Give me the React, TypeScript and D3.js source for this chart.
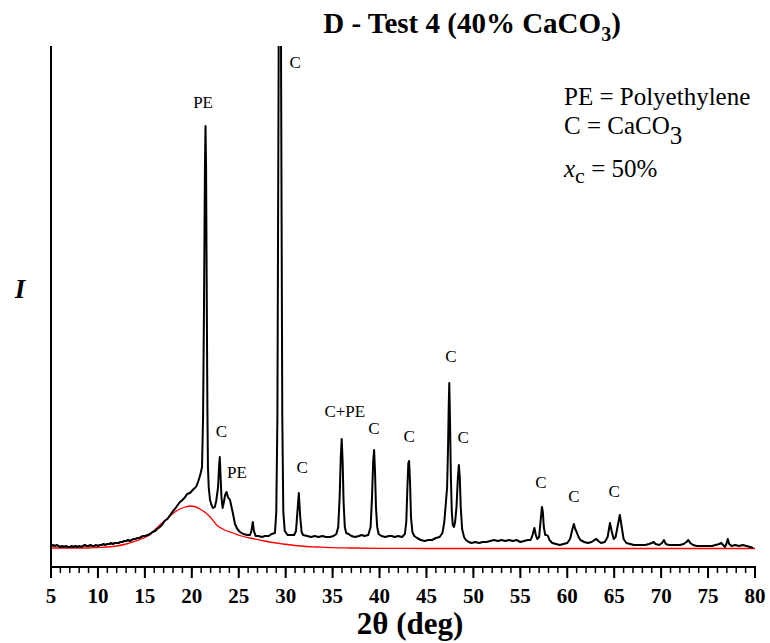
import React from "react";
import * as d3 from "d3";

// Measured XRD pattern: [2θ (deg), intensity (a.u.)]
const measured: [number, number][] = [
  [5.0,21],[5.2,22],[5.4,21],[5.6,22],[5.8,21],[6.0,20],[6.2,21],[6.4,20],[6.6,21],[6.8,20],
  [7.0,20],[7.2,21],[7.4,20],[7.6,21],[7.8,20],[8.0,21],[8.2,20],[8.4,21],[8.6,22],[8.8,21],
  [9.0,21],[9.2,22],[9.4,21],[9.6,21],[9.8,22],[10.0,21],[10.2,22],[10.4,22],[10.6,23],[10.8,22],
  [11.0,23],[11.2,23],[11.4,24],[11.6,23],[11.8,24],[12.0,24],[12.2,24],[12.4,25],[12.6,25],[12.8,26],
  [13.0,26],[13.2,27],[13.4,26],[13.6,27],[13.8,28],[14.0,28],[14.2,29],[14.4,29],[14.6,30],[14.8,31],
  [15.0,31],[15.3,32],[15.55,33],[15.8,35],[16.1,36],[16.3,38],[16.6,40],[16.9,43],[17.1,46],[17.4,48],
  [17.7,52],[18.0,56],[18.2,58],[18.5,62],[18.74,65],[19.0,67],[19.3,70],[19.5,73],[19.8,74],[20.0,76],
  [20.2,78],[20.34,79],[20.5,81],[20.66,85],[20.8,89],[20.95,94],[21.09,100],[21.2,150],[21.3,260],[21.4,400],
  [21.46,441],[21.52,400],[21.6,260],[21.66,160],[21.72,100],[21.8,80],[21.94,67],[22.1,62],[22.26,59],[22.45,60],
  [22.6,66],[22.8,80],[22.9,100],[22.98,110],[23.06,92],[23.16,70],[23.28,59],[23.4,64],[23.55,72],[23.7,75],
  [23.85,70],[24.07,67],[24.35,55],[24.6,43],[24.85,38],[25.13,35],[25.5,33],[25.9,32],[26.2,32],[26.35,36],
  [26.5,45],[26.62,36],[26.8,31],[27.1,31],[27.5,30],[27.8,31],[28.2,31],[28.5,33],[28.86,34],[29.0,55],
  [29.12,150],[29.25,500],[29.3,900],[29.38,1400],[29.46,900],[29.51,500],[29.64,150],[29.75,55],
  [29.9,36],[30.2,32],[30.5,32],[30.9,32],[31.1,36],[31.25,55],[31.4,74],[31.55,50],[31.7,35],[31.85,32],
  [32.3,31],[32.7,30],[33.1,31],[33.5,30],[33.9,31],[34.3,30],[34.7,30],[35.1,31],[35.4,33],[35.6,40],
  [35.75,70],[35.87,110],[35.97,128],[36.07,105],[36.17,65],[36.3,40],[36.45,34],[36.7,33],[37.0,31],[37.4,30],
  [37.8,31],[38.1,32],[38.4,31],[38.8,32],[39.05,40],[39.2,70],[39.32,105],[39.42,117],[39.52,95],[39.62,60],
  [39.75,40],[39.9,33],[40.2,31],[40.6,30],[41.0,31],[41.3,31],[41.6,30],[42.0,31],[42.4,30],[42.7,33],
  [42.85,45],[42.97,80],[43.07,104],[43.15,106],[43.25,85],[43.35,50],[43.5,35],[43.7,31],[44.0,29],[44.4,27],
  [44.8,26],[45.2,27],[45.6,27],[46.0,29],[46.4,30],[46.7,34],[46.9,45],[47.05,62],[47.2,80],[47.3,120],
  [47.37,160],[47.43,184],[47.5,150],[47.6,90],[47.7,55],[47.8,42],[47.93,40],[48.05,45],[48.2,60],[48.35,90],
  [48.45,102],[48.55,90],[48.65,60],[48.8,38],[49.0,30],[49.2,27],[49.5,25],[49.8,24],[50.2,25],[50.6,24],
  [51.0,25],[51.4,25],[51.8,26],[52.2,27],[52.6,26],[53.0,27],[53.4,26],[53.8,27],[54.2,26],[54.6,27],
  [55.0,25],[55.4,26],[55.8,27],[56.1,27],[56.3,32],[56.5,39],[56.65,32],[56.8,28],[57.0,30],[57.15,45],
  [57.3,60],[57.4,55],[57.5,40],[57.65,32],[57.8,32],[57.95,31],[58.1,27],[58.4,24],[58.8,23],[59.2,22],
  [59.6,23],[60.0,24],[60.3,28],[60.55,38],[60.7,43],[60.85,38],[61.0,35],[61.2,30],[61.4,27],[61.8,25],
  [62.2,24],[62.6,25],[62.9,27],[63.1,28],[63.3,26],[63.6,24],[64.0,25],[64.3,30],[64.55,44],[64.75,35],
  [64.95,28],[65.15,30],[65.35,40],[65.6,52],[65.8,40],[66.0,28],[66.3,24],[66.7,23],[67.1,22],[67.5,22],
  [67.9,22],[68.3,22],[68.7,23],[69.0,24],[69.2,25],[69.4,23],[69.8,22],[70.1,24],[70.3,27],[70.5,23],
  [70.8,22],[71.2,22],[71.6,22],[72.0,22],[72.4,23],[72.7,25],[72.9,27],[73.1,24],[73.4,22],[73.8,21],
  [74.2,21],[74.6,21],[75.0,21],[75.4,21],[75.8,22],[76.2,23],[76.4,24],[76.6,22],[76.8,20],[76.95,23],
  [77.1,28],[77.25,23],[77.5,21],[77.9,22],[78.3,21],[78.7,22],[79.1,21],[79.5,20],[79.8,19],
];

// Fitted amorphous halo (background): [2θ (deg), intensity (a.u.)]
const amorphousHalo: [number, number][] = [
  [5,19],[7,19],[9,19],[10,19.5],[11,20],[12,21],[13,23],[14,26],[15,29.5],[15.5,32],
  [16,36.5],[16.6,42],[17.2,47],[17.7,51],[18.2,55],[18.74,58],[19.3,60],[19.8,61],[20.3,60.5],[20.87,58],
  [21.5,54],[22.0,49.5],[22.65,42],[23.5,37],[24.4,34],[25.3,31],[26.2,29],[27.5,26.5],[28.6,24.5],[29.7,23],
  [31,21.5],[32.2,20.5],[33.3,20],[35,19.3],[37,19],[40,18.7],[45,18.5],[50,18.5],[60,18.5],[70,18.5],[80,18.5],
];

// Peak assignments: label, 2θ and the intensity level of the label baseline
const peakLabelText = ["PE", "C", "C", "PE", "C", "C+PE", "C", "C", "C", "C", "C", "C", "C"];
const peakLabelAngle = [21.2, 30.4, 23.15, 24.8, 31.75, 36.3, 39.4, 43.15, 47.6, 48.9, 57.2, 60.7, 65.0];
const peakLabelLevel = [459, 499, 130, 89, 94, 150, 133, 125, 205, 124, 79, 65, 70];
const peakLabelAnchor = ["middle", "start", "middle", "middle", "middle", "middle", "middle", "middle", "middle", "middle", "middle", "middle", "middle"];

const xMajorTicks = d3.range(5, 81, 5);
const xMinorTicks = d3.range(5, 81, 1);

const W = 770;
const H = 643;
const plot = { left: 51, right: 755, top: 46, bottom: 567 };

export default function App() {
  const x = d3.scaleLinear().domain([5, 80]).range([plot.left, plot.right]);
  const y = d3.scaleLinear().domain([0, 521]).range([plot.bottom, plot.top]);
  const line = d3
    .line<[number, number]>()
    .x((d) => x(d[0]))
    .y((d) => y(d[1]));
  const smooth = d3
    .line<[number, number]>()
    .x((d) => x(d[0]))
    .y((d) => y(d[1]))
    .curve(d3.curveMonotoneX);

  const serif = "'Liberation Serif', 'Times New Roman', serif";

  return (
    <svg
      width={W}
      height={H}
      viewBox={`0 0 ${W} ${H}`}
      style={{ position: "absolute", left: 0, top: 0, background: "#fff" }}
      fontFamily={serif}
    >
      <defs>
        <clipPath id="plotArea">
          <rect x={plot.left} y={plot.top} width={plot.right - plot.left + 4} height={plot.bottom - plot.top} />
        </clipPath>
      </defs>
      <rect width={W} height={H} fill="#fff" />

      {/* Title */}
      <text x={472} y={33} textAnchor="middle" fontSize={29} fontWeight="bold">
        D - Test 4 (40% CaCO
        <tspan fontSize={20} dy={8}>3</tspan>
        <tspan dy={-8}>)</tspan>
      </text>

      {/* Patterns */}
      <g clipPath="url(#plotArea)">
        <path d={smooth(amorphousHalo) ?? ""} fill="none" stroke="#ff0000" strokeWidth={1.3} />
        <path d={line(measured) ?? ""} fill="none" stroke="#000" strokeWidth={2} strokeLinejoin="round" />
      </g>

      {/* Peak labels */}
      {peakLabelText.map((t, i) => (
        <text
          key={i}
          x={x(peakLabelAngle[i])}
          y={y(peakLabelLevel[i])}
          textAnchor={peakLabelAnchor[i] as any}
          fontSize={17}
        >
          {t}
        </text>
      ))}

      {/* Axes */}
      <line x1={plot.left} x2={plot.left} y1={plot.top} y2={plot.bottom + 1} stroke="#000" strokeWidth={2} />
      <line x1={plot.left - 1} x2={plot.right + 1} y1={plot.bottom} y2={plot.bottom} stroke="#000" strokeWidth={2} />
      {xMinorTicks.map((t) => (
        <line key={"m" + t} x1={x(t)} x2={x(t)} y1={plot.bottom} y2={plot.bottom + 6} stroke="#000" strokeWidth={1.5} />
      ))}
      {xMajorTicks.map((t) => (
        <line key={"M" + t} x1={x(t)} x2={x(t)} y1={plot.bottom} y2={plot.bottom + 11} stroke="#000" strokeWidth={2} />
      ))}
      {xMajorTicks.map((t) => (
        <text key={"l" + t} x={x(t)} y={603} textAnchor="middle" fontSize={21} fontWeight="bold">
          {t}
        </text>
      ))}

      {/* Axis titles */}
      <text x={410} y={634} textAnchor="middle" fontSize={31} fontWeight="bold">
        2θ (deg)
      </text>
      <text x={20} y={298} textAnchor="middle" fontSize={27} fontWeight="bold" fontStyle="italic">
        I
      </text>

      {/* Key */}
      <g fontSize={25}>
        <text x={564} y={105}>PE = Polyethylene</text>
        <text x={564} y={134}>
          C = CaCO<tspan dy={10}>3</tspan>
        </text>
        <text x={564} y={177}>
          <tspan fontStyle="italic">x</tspan>
          <tspan fontSize={22} dy={6}>c</tspan>
          <tspan dy={-6}> = 50%</tspan>
        </text>
      </g>
    </svg>
  );
}
